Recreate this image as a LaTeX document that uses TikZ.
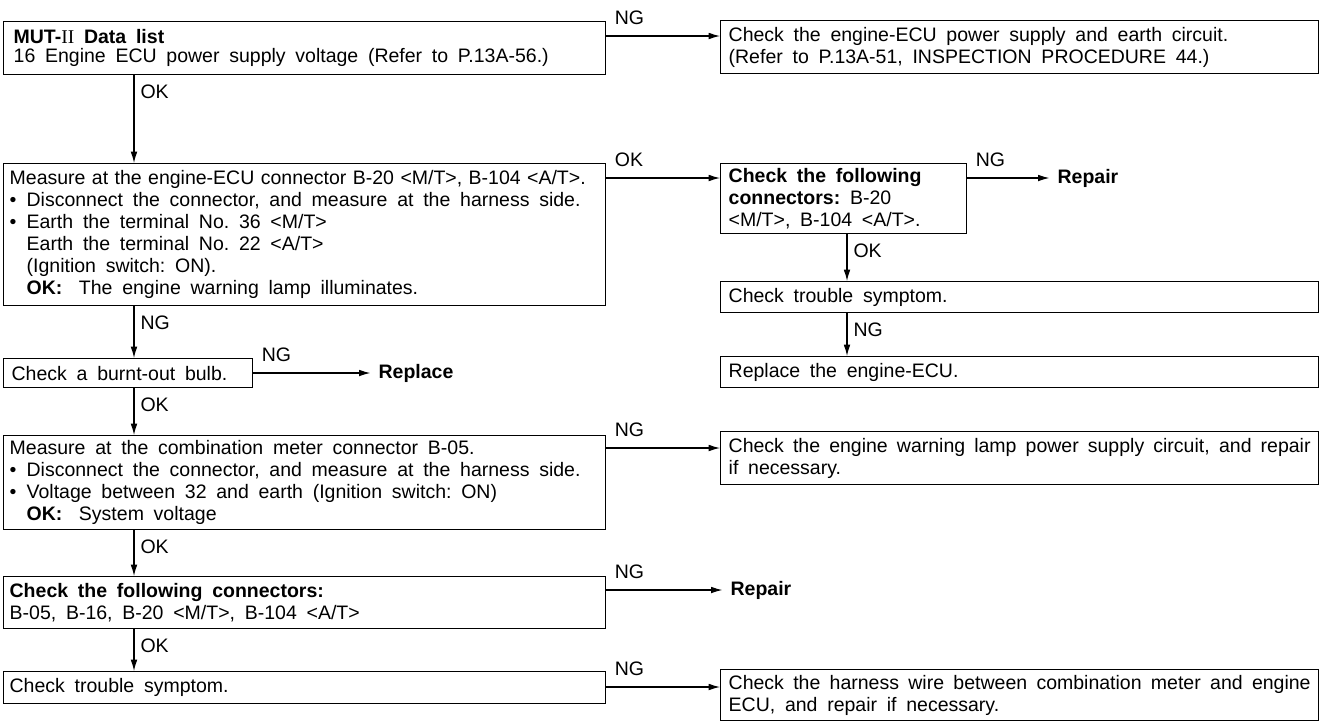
\documentclass[tikz,border=0pt]{standalone}
\usepackage{fontspec}
\setmainfont{Liberation Sans}
\newfontfamily\romfont{Liberation Serif}
\usetikzlibrary{arrows.meta,calc}
\newcommand\fs{\fontsize{14.625pt}{16.5pt}\selectfont}
\newcommand\fsa{\fontsize{14.625pt}{14.25pt}\selectfont}
\newcommand\ws{\spaceskip=0.5em minus 0.1em\xspaceskip=0.5em minus 0.1em\relax}
\newcommand\wsn{\spaceskip=0.42em plus 0.3em minus 0.1em\xspaceskip=0.42em plus 0.3em\relax}
\newcommand\wst{\spaceskip=0.33em minus 0.05em\xspaceskip=0.33em\relax}
\newcommand\mybul{\makebox[12.75pt][l]{\textbullet}}
\newcommand\myind{\hspace*{12.75pt}}
\newcommand\okgap{\hspace*{0.85em}}
\newcommand\fillline[1]{\makebox[\linewidth][s]{#1}}
\begin{document}
\begin{tikzpicture}[x=0.75pt,y=-0.75pt,font=\fs,
  box/.style={draw, line width=1pt, anchor=north west, align=left, inner xsep=6pt, inner ysep=0pt},
  sz/.style 2 args={minimum width=#1*0.75pt, minimum height=#2*0.75pt, text width=#1*0.75pt-12pt},
  arr/.style={line width=0.8pt, -{Latex[length=8.5pt,width=5pt]}},
  hlab/.style={pos=0, anchor=base west, xshift=6pt, yshift=9pt, inner sep=0pt},
  vlab/.style={pos=0, anchor=north west, xshift=4.5pt, yshift=-7pt, inner sep=0pt},
  res/.style={anchor=west, inner xsep=6pt, inner ysep=0pt, font=\fs\bfseries}]
\useasboundingbox (0,0) rectangle (1324,722);
% boxes
\node[box, sz={602}{53}, font=\fsa, inner xsep=7.5pt, text width=602*0.75pt-15pt] (b1) at (3,21) {\ws\textbf{MUT-}{\romfont II}\textbf{ Data list}\\16 Engine ECU power supply voltage (Refer to P.13A-56.)};
\node[box, sz={598}{53}] (b2) at (720,20) {\ws Check the engine-ECU power supply and earth circuit.\\(Refer to P.13A-51, INSPECTION PROCEDURE 44.)};
\node[box, sz={602}{142}, inner xsep=4.5pt, text width=602*0.75pt-9pt] (b3) at (3,163) {\ws{\wst Measure at the engine-ECU connector B-20 <M/T>, B-104 <A/T>.}\\
\mybul Disconnect the connector, and measure at the harness side.\\
\mybul Earth the terminal No. 36 <M/T>\\
\myind Earth the terminal No. 22 <A/T>\\
\myind (Ignition switch: ON).\\
\myind\textbf{OK:}\okgap The engine warning lamp illuminates.};
\node[box, sz={246}{70}] (b4) at (720,163) {\ws\textbf{Check the following}\\\textbf{connectors:} B-20\\<M/T>, B-104 <A/T>.};
\node[box, sz={598}{31}] (b5) at (720,281) {\ws Check trouble symptom.};
\node[box, sz={598}{31}] (b6) at (720,356) {\ws Replace the engine-ECU.};
\node[box, sz={249}{29}] (b7) at (3,358) {\ws Check a burnt-out bulb.};
\node[box, sz={602}{94}, inner xsep=4.5pt, text width=602*0.75pt-9pt] (b8) at (3,435) {\ws Measure at the combination meter connector B-05.\\
\mybul Disconnect the connector, and measure at the harness side.\\
\mybul Voltage between 32 and earth (Ignition switch: ON)\\
\myind\textbf{OK:}\okgap System voltage};
\node[box, sz={598}{53}] (b11) at (720,431) {\ws{\wsn\fillline{Check the engine warning lamp power supply circuit, and repair}}\\if necessary.};
\node[box, sz={602}{52}, inner xsep=4.5pt, text width=602*0.75pt-9pt] (b9) at (3,576) {\ws\textbf{Check the following connectors:}\\B-05, B-16, B-20 <M/T>, B-104 <A/T>};
\node[box, sz={602}{32}, inner xsep=4.5pt, text width=602*0.75pt-9pt] (b10) at (3,671) {\ws Check trouble symptom.};
\node[box, sz={598}{51}] (b12) at (720,669) {\ws{\wsn\fillline{Check the harness wire between combination meter and engine}}\\ECU, and repair if necessary.};
% result texts
\node[res] (r1) at ($(b4.north east)+(82,15)$) {Repair};
\node[res] (r2) at ($(b7.north east)+(117,15)$) {Replace};
\node[res] (r3) at ($(b9.north east)+(116,14)$) {Repair};
% horizontal connectors
\draw[arr] ($(b1.north east)+(0,15)$) coordinate (h1) -- node[hlab] (n1) {NG} (h1 -| b2.west);
\draw[arr] ($(b3.north east)+(0,15)$) coordinate (h2) -- node[hlab] (n2) {OK} (h2 -| b4.west);
\draw[arr] ($(b4.north east)+(0,15)$) coordinate (h3) -- node[hlab] (n3) {NG} (r1.west);
\draw[arr] ($(b7.north east)+(0,15)$) coordinate (h4) -- node[hlab] (n4) {NG} (r2.west);
\draw[arr] ($(b8.north east)+(0,13)$) coordinate (h5) -- node[hlab] (n5) {NG} (h5 -| b11.west);
\draw[arr] ($(b9.north east)+(0,14)$) coordinate (h6) -- node[hlab] (n6) {NG} (r3.west);
\draw[arr] ($(b10.north east)+(0,16)$) coordinate (h7) -- node[hlab] (n7) {NG} (h7 -| b12.west);
% vertical connectors
\draw[arr] ($(b1.south west)+(131,0)$) coordinate (v1) -- node[vlab] (o1) {OK} (v1 |- b3.north);
\draw[arr] ($(b3.south west)+(131,0)$) coordinate (v2) -- node[vlab] (o2) {NG} (v2 |- b7.north);
\draw[arr] ($(b7.south west)+(131,0)$) coordinate (v3) -- node[vlab] (o3) {OK} (v3 |- b8.north);
\draw[arr] ($(b8.south west)+(131,0)$) coordinate (v4) -- node[vlab] (o4) {OK} (v4 |- b9.north);
\draw[arr] ($(b9.south west)+(131,0)$) coordinate (v5) -- node[vlab] (o5) {OK} (v5 |- b10.north);
\draw[arr] ($(b4.south west)+(127,0)$) coordinate (v6) -- node[vlab] (o6) {OK} (v6 |- b5.north);
\draw[arr] ($(b5.south west)+(127,0)$) coordinate (v7) -- node[vlab] (o7) {NG} (v7 |- b6.north);
\end{tikzpicture}
\end{document}
